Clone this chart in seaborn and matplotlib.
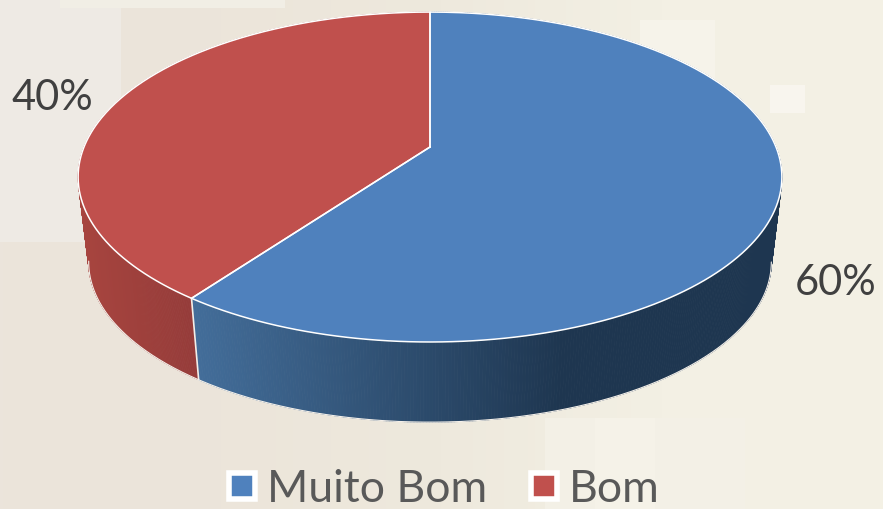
import numpy as np
import matplotlib
matplotlib.use('Agg')
import matplotlib.pyplot as plt
from matplotlib.collections import PolyCollection
from matplotlib.lines import Line2D
from matplotlib.patches import Rectangle
import seaborn as sns

# 차트 데이터
categories = ['Muito Bom', 'Bom']
shares = [60, 40]
share_labels = ['60%', '40%']

sns.set_theme(style='white')
plt.rcParams['font.family'] = ['Lato', 'DejaVu Sans']

top_colors = sns.color_palette(['#4F81BD', '#C0504D'])
wall_blue = sns.blend_palette(['#446F9C', '#1E3650'], n_colors=256)
wall_red = sns.blend_palette(['#A8453F', '#963C3A'], n_colors=256)

fig = plt.figure(figsize=(8.83, 5.09), dpi=100)
ax = fig.add_axes([0, 0, 1, 1])
ax.set_xlim(0, 883)
ax.set_ylim(509, 0)
ax.axis('off')

# 배경 (베이지 그라데이션 + 옅은 사각형)
bg = sns.blend_palette(['#EBE4DB', '#ECE5DA', '#EEE9DD', '#F3F0E4', '#F4F1E5'], n_colors=256)
ax.imshow(np.array(bg)[None, :, :], extent=[0, 883, 509, 0], aspect='auto', zorder=0)
for x, y, w, h, c in [
    (0, 0, 121, 242, '#EEEAE4'),
    (60, 0, 225, 8, '#F1EEE5'),
    (545, 418, 200, 91, '#F3F0E6'),
    (595, 418, 60, 91, '#F5F2E8'),
    (640, 20, 75, 150, '#F6F3EA'),
    (770, 85, 35, 28, '#F8F5EE'),
]:
    ax.add_patch(Rectangle((x, y), w, h, fc=c, ec='none', zorder=0.5))


# 원근 투영 (각도: 12시 방향에서 시계방향)
def project(deg, scale=1.0, drop=0.0):
    a = np.radians(deg)
    X, Y = np.sin(a), np.cos(a)
    d = 1 + 0.182 * Y
    return 430 + scale * 346 * X / d, 147 + drop - scale * 159.5 * Y / d


edges = np.concatenate([[0], np.cumsum(shares)]) * 360 / sum(shares)

# 옆면 (뒤쪽부터 앞쪽으로)
for i, (pal, lo, hi) in enumerate([(wall_blue, 190, 560), (wall_red, 85, 197)]):
    t = np.linspace(edges[i], edges[i + 1], 500)
    tx, ty = project(t)
    bx, by = project(t, 0.97, 86)
    quads, cols = [], []
    order = np.argsort(-np.cos(np.radians(t[:-1])))
    for j in order:
        quads.append([(tx[j], ty[j]), (tx[j + 1], ty[j + 1]), (bx[j + 1], by[j + 1]), (bx[j], by[j])])
        k = int(np.clip((bx[j] - lo) / (hi - lo), 0, 1) * 255)
        cols.append(pal[k])
    ax.add_collection(PolyCollection(quads, facecolors=cols, edgecolors=cols, linewidths=0.6, zorder=2))
    front = (t > 100) & (t < 260)
    ax.plot(bx[front], by[front], color='#F4F0EA', lw=0.8, zorder=3)

# 조각 경계선
sx, sy = project(edges[1])
bx, by = project(edges[1], 0.97, 86)
ax.plot([sx, bx], [sy, by], color='#F2EFEA', lw=1.2, zorder=3)

# 윗면
for i, color in enumerate(top_colors):
    t = np.linspace(edges[i], edges[i + 1], 300)
    x, y = project(t)
    ax.fill(np.r_[430, x], np.r_[147, y], color=color, lw=0, zorder=4)
    ax.plot(np.r_[430, x, 430], np.r_[147, y, 147], color='white', lw=1.1, zorder=5,
            solid_joinstyle='round')

# 퍼센트 라벨
for label, x, y in zip(share_labels, [836, 52], [283, 98]):
    ax.text(x, y, label, fontsize=30, color='#404040', ha='center', va='center', zorder=6)

# 범례
handles = [Line2D([], [], ls='none', marker='s', markersize=19, mfc=c, mec='white', mew=4)
           for c in top_colors]
ax.legend(handles, categories, loc='lower center', bbox_to_anchor=(0.5006, -0.045), ncol=2,
          frameon=False, fontsize=32, labelcolor='#595959', handlelength=0.8,
          handletextpad=0.17, columnspacing=0.87, borderpad=0)

plt.savefig('out.png', dpi=100)
